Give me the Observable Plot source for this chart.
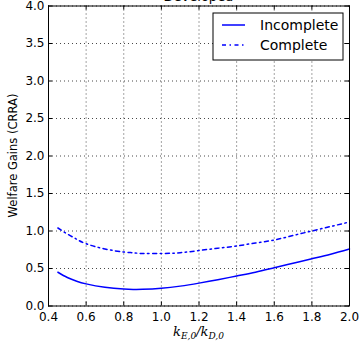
<!DOCTYPE html>
<html><head><meta charset="utf-8">
<script src="https://cdn.jsdelivr.net/npm/d3@7"></script>
<script src="https://cdn.jsdelivr.net/npm/@observablehq/plot@0.6"></script>
<style>body{margin:0;background:#fff;} svg{overflow:visible}</style>
</head><body><div id="chart"></div>
<script>
const xValues = [0.45,0.5,0.55,0.6,0.7,0.8,0.85,0.9,1.0,1.1,1.2,1.3,1.4,1.5,1.6,1.7,1.8,1.9,2.0];
const incomplete = [0.45,0.38,0.33,0.295,0.25,0.226,0.221,0.222,0.236,0.265,0.305,0.35,0.40,0.45,0.51,0.57,0.63,0.69,0.76];
const complete = [1.04,0.96,0.89,0.83,0.76,0.72,0.71,0.70,0.70,0.71,0.74,0.77,0.80,0.84,0.88,0.94,1.00,1.06,1.12];
const seriesNames = ["Incomplete","Complete"];
const xTicks = [0.4,0.6,0.8,1.0,1.2,1.4,1.6,1.8,2.0];
const yTicks = [0.0,0.5,1.0,1.5,2.0,2.5,3.0,3.5,4.0];
const yLabel = "Welfare Gains (CRRA)";
const titleText = "Developed";

const rows = [];
xValues.forEach((x,i)=>{
  rows.push({x, y: incomplete[i], s: seriesNames[0]});
  rows.push({x, y: complete[i], s: seriesNames[1]});
});
const W = 361, H = 344, mL = 48, mR = 12, mT = 5.5, mB = 38.5;
const pw = W-mL-mR, ph = H-mT-mB;
const font = "DejaVu Sans, sans-serif";
const dashPattern = "4,3.5,1.5,3.5";
const plot = Plot.plot({
  width: W, height: H,
  marginLeft: mL, marginRight: mR, marginTop: mT, marginBottom: mB,
  style: {fontFamily: font, fontSize: "12px", color: "#000", background: "#fff"},
  x: {domain: [0.4, 2.0]},
  y: {domain: [0, 4.0]},
  marks: [
    Plot.ruleX(xTicks, {stroke: "#000", strokeWidth: 0.8, strokeDasharray: "1,3", strokeOpacity: 0.9}),
    Plot.ruleY(yTicks, {stroke: "#000", strokeWidth: 0.8, strokeDasharray: "1,3", strokeOpacity: 0.9}),
    Plot.tickX(xTicks, {x: d=>d, insetTop: ph-4, stroke: "#000"}),
    Plot.tickX(xTicks, {x: d=>d, insetBottom: ph-4, stroke: "#000"}),
    Plot.tickY(yTicks, {y: d=>d, insetRight: pw-4, stroke: "#000"}),
    Plot.tickY(yTicks, {y: d=>d, insetLeft: pw-4, stroke: "#000"}),
    Plot.line(rows.filter(d=>d.s===seriesNames[0]), {x:"x", y:"y", stroke:"#0000ff", strokeWidth:1.5, curve:"natural"}),
    Plot.line(rows.filter(d=>d.s===seriesNames[1]), {x:"x", y:"y", stroke:"#0000ff", strokeWidth:1.5, curve:"natural", strokeDasharray: dashPattern}),
    Plot.frame({stroke:"#000", strokeWidth: 1}),
    Plot.axisX(xTicks, {tickSize: 0, tickPadding: 6, tickFormat: d=>d.toFixed(1), label: null, fontSize: 12}),
    Plot.axisY(yTicks, {tickSize: 0, tickPadding: 4, tickFormat: d=>d.toFixed(1), label: null, fontSize: 12})
  ]
});
document.getElementById("chart").appendChild(plot);
const svg = d3.select(plot);
// title (clipped at top, as in the reference)
svg.append("text").attr("x", mL+pw/2).attr("y", 0.5).attr("text-anchor","middle")
  .attr("font-family", font).attr("font-size", 13).attr("fill","#000").text(titleText);
// y label
svg.append("text").attr("transform", `translate(17,${mT+ph/2}) rotate(-90)`).attr("text-anchor","middle")
  .attr("font-family", font).attr("font-size", 11.5).attr("fill","#000").text(yLabel);
// x label
const xl = svg.append("text").attr("x", mL+pw/2).attr("y", 336).attr("text-anchor","middle")
  .attr("font-family","DejaVu Serif, serif").attr("font-style","italic").attr("font-size", 13).attr("fill","#000");
xl.append("tspan").text("k");
xl.append("tspan").attr("font-size", 9).attr("dy", 3).text("E,0");
xl.append("tspan").attr("dy", -3).text("/k");
xl.append("tspan").attr("font-size", 9).attr("dy", 3).text("D,0");
// legend
const lg = svg.append("g");
lg.append("rect").attr("x", 213).attr("y", 13).attr("width", 130).attr("height", 47)
  .attr("fill","#fff").attr("stroke","#000").attr("stroke-width",1);
const dashes = [null, dashPattern];
seriesNames.forEach((name,i)=>{
  const yy = 25 + i*20;
  const ln = lg.append("line").attr("x1",222).attr("x2",245).attr("y1",yy).attr("y2",yy)
    .attr("stroke","#0000ff").attr("stroke-width",1.5);
  if (dashes[i]) ln.attr("stroke-dasharray", dashes[i]);
  lg.append("text").attr("x",260).attr("y",yy+5).attr("text-anchor","start").attr("font-family",font).attr("font-size",14)
    .attr("fill","#000").text(name);
});
</script></body></html>
